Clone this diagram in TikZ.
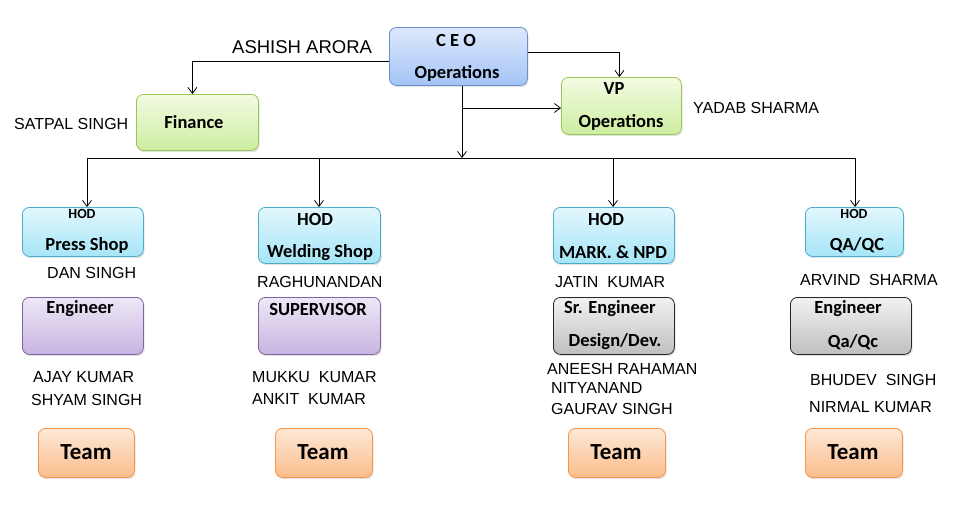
\documentclass[tikz,border=0pt]{standalone}
\usepackage{fontspec}
\setmainfont{Liberation Sans}
\newfontfamily\boxfont{Carlito}
\usetikzlibrary{arrows.meta,shadows}
\definecolor{bluetop}{HTML}{DDE9FC}
\definecolor{bluebot}{HTML}{A4C3F5}
\definecolor{blueln}{HTML}{6D8FC9}
\definecolor{greentop}{HTML}{F3FBE2}
\definecolor{greenbot}{HTML}{CDEDA0}
\definecolor{greenln}{HTML}{9BC45A}
\definecolor{cyantop}{HTML}{E2F7FD}
\definecolor{cyanbot}{HTML}{A6E5F7}
\definecolor{cyanln}{HTML}{4BACC6}
\definecolor{purptop}{HTML}{EEE7F7}
\definecolor{purpbot}{HTML}{C7B4E0}
\definecolor{purpln}{HTML}{8064A2}
\definecolor{graytop}{HTML}{F2F2F2}
\definecolor{graybot}{HTML}{BFBFBF}
\definecolor{grayln}{HTML}{262626}
\definecolor{orgtop}{HTML}{FDE8D6}
\definecolor{orgbot}{HTML}{FBBD8C}
\definecolor{orgln}{HTML}{F79646}
\begin{document}
\begin{tikzpicture}[x=1pt,y=-1pt,
  box/.style={rounded corners=7pt, line width=0.8pt, anchor=north west, inner sep=0pt,
    drop shadow={opacity=0.22, shadow xshift=1.2pt, shadow yshift=-1.8pt}},
  bluebox/.style={box, draw=blueln, top color=bluetop, bottom color=bluebot},
  greenbox/.style={box, draw=greenln, top color=greentop, bottom color=greenbot},
  cyanbox/.style={box, draw=cyanln, top color=cyantop, bottom color=cyanbot},
  purpbox/.style={box, draw=purpln, top color=purptop, bottom color=purpbot},
  graybox/.style={box, draw=grayln, top color=graytop, bottom color=graybot},
  orgbox/.style={box, draw=orgln, top color=orgtop, bottom color=orgbot},
  bt/.style={font=\boxfont\bfseries\fontsize{18.5}{20}\selectfont, inner sep=0pt},
  bts/.style={font=\boxfont\bfseries\fontsize{14}{16}\selectfont, inner sep=0pt},
  team/.style={font=\boxfont\bfseries\fontsize{23}{25}\selectfont, inner sep=0pt},
  nm/.style={font=\fontsize{16}{18}\selectfont, inner sep=0pt, anchor=west},
  ln/.style={line width=0.8pt, black},
  arr/.style={ln, -{Straight Barb[length=6pt,width=9pt,line width=0.8pt]}}
]
\useasboundingbox (0,0) rectangle (956,512);

% boxes
\node[bluebox, minimum width=138pt, minimum height=58pt] (ceo) at (389,27) {};
\node[greenbox, minimum width=120pt, minimum height=57pt] (vp) at (561,77) {};
\node[greenbox, minimum width=122pt, minimum height=56pt] (fin) at (136,94) {};
\node[cyanbox, minimum width=121pt, minimum height=49pt] (hod1) at (22,207) {};
\node[cyanbox, minimum width=122pt, minimum height=56pt] (hod2) at (258,207) {};
\node[cyanbox, minimum width=121pt, minimum height=56pt] (hod3) at (553,207) {};
\node[cyanbox, minimum width=98pt, minimum height=49pt] (hod4) at (805,207) {};
\node[purpbox, minimum width=121pt, minimum height=57pt] (eng1) at (22,297) {};
\node[purpbox, minimum width=122pt, minimum height=57pt] (sup2) at (258,297) {};
\node[graybox, minimum width=121pt, minimum height=57pt] (eng3) at (553,297) {};
\node[graybox, minimum width=121pt, minimum height=57pt] (eng4) at (790,297) {};
\node[orgbox, minimum width=96pt, minimum height=49pt] (team1) at (38,428) {};
\node[orgbox, minimum width=97pt, minimum height=49pt] (team2) at (275,428) {};
\node[orgbox, minimum width=97pt, minimum height=49pt] (team3) at (568,428) {};
\node[orgbox, minimum width=97pt, minimum height=49pt] (team4) at (805,428) {};

% box texts
\node[bt] (ceot) at (456,40) {C E O};
\node[bt] (ceoop) at (457,73) {Operations};
\node[bt] (vpt) at (614,88) {VP};
\node[bt] (vpop) at (621,122) {Operations};
\node[bt] (fint) at (194,122) {Finance};
\node[bts] (h1a) at (82,214) {HOD};
\node[bt] (h1b) at (87,245) {Press Shop};
\node[bt] (h2a) at (315,219) {HOD};
\node[bt] (h2b) at (320,253) {Welding Shop};
\node[bt] (h3a) at (606,219) {HOD};
\node[bt] (h3b) at (613,252) {MARK. \& NPD};
\node[bts] (h4a) at (854,214) {HOD};
\node[bt] (h4b) at (857,245) {QA/QC};
\node[bt] (e1) at (80,309) {Engineer};
\node[bt] (s2) at (318,309) {SUPERVISOR};
\node[bt] (e3a) at (610,309) {Sr. Engineer};
\node[bt] (e3b) at (615,342) {Design/Dev.};
\node[bt] (e4a) at (848,309) {Engineer};
\node[bt] (e4b) at (853,342) {Qa/Qc};
\node[team] (t1) at (86,452) {Team};
\node[team] (t2) at (323,452) {Team};
\node[team] (t3) at (616,452) {Team};
\node[team] (t4) at (853,452) {Team};

% names
\node[nm, font=\fontsize{18.5}{20}\selectfont] (ashish) at (232,47) {ASHISH ARORA};
\node[nm] (satpal) at (14,124) {SATPAL SINGH};
\node[nm] (yadab) at (693,108) {YADAB SHARMA};
\node[nm] (dan) at (47,273) {DAN SINGH};
\node[nm] (ragh) at (257,282) {RAGHUNANDAN};
\node[nm] (jatin) at (555,282) {JATIN\ \ KUMAR};
\node[nm] (arvind) at (800,280) {ARVIND\ \ SHARMA};
\node[nm] (ajay) at (33,377) {AJAY KUMAR};
\node[nm] (shyam) at (31,400) {SHYAM SINGH};
\node[nm] (mukku) at (252,377) {MUKKU\ \ KUMAR};
\node[nm] (ankit) at (252,399) {ANKIT\ \ KUMAR};
\node[nm] (aneesh) at (547,369) {ANEESH RAHAMAN};
\node[nm] (nitya) at (551,388) {NITYANAND};
\node[nm] (gaurav) at (551,409) {GAURAV SINGH};
\node[nm] (bhudev) at (810,380) {BHUDEV\ \ SINGH};
\node[nm] (nirmal) at (809,407) {NIRMAL KUMAR};

% connectors
\coordinate (br) at (462,108);
\coordinate (busc) at (462,158);
\coordinate (b1) at (87,158);
\coordinate (b2) at (319,158);
\coordinate (b3) at (613,158);
\coordinate (b4) at (855,158);
\draw[arr] ([yshift=-5pt]ceo.west) -| ([xshift=-5pt]fin.north);
\draw[arr] ([yshift=4pt]ceo.east) -| ([xshift=-2pt]vp.north);
\draw[arr] (busc |- ceo.south) -- (busc);
\draw[arr] (br) -- (br -| vp.west);
\draw[ln] (b1) -- (b4);
\draw[arr] (b1) -- (b1 |- hod1.north);
\draw[arr] (b2) -- (b2 |- hod2.north);
\draw[arr] (b3) -- (b3 |- hod3.north);
\draw[arr] (b4) -- (b4 |- hod4.north);
\end{tikzpicture}
\end{document}
